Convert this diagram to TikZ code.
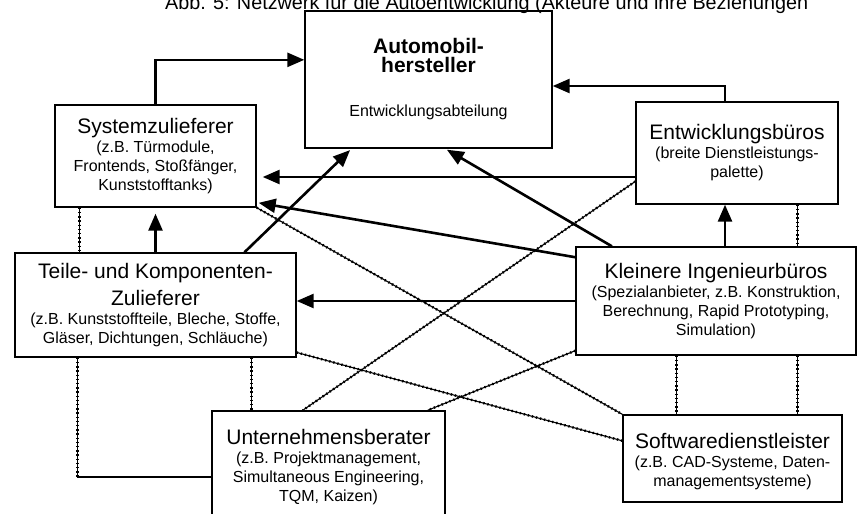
\documentclass[tikz,border=0pt]{standalone}
\usepackage{fontspec}
\setmainfont{Liberation Sans}
\usetikzlibrary{calc, positioning, arrows.meta}
\newcommand{\haupt}{\fontsize{10.5}{12}\selectfont}
\newcommand{\zusatz}{\fontsize{8}{9.5}\selectfont}

\begin{document}
\begin{tikzpicture}[x=0.5pt, y=-0.5pt,
	kasten/.style={draw, line width=.7pt, align=center, inner sep=0pt, font=\zusatz},
	pfeil/.style={line width=1.3pt, -{Triangle[length=8.5pt,width=7pt]}},
	verbindung/.style={line width=.55pt, postaction={draw, line width=1.2pt, dash pattern=on .7pt off 1.4pt}}]
	\useasboundingbox (0,0) rectangle (860,513);

	\node [anchor=base west, font=\fontsize{9.9}{12}\selectfont] (titel) at (158,9.5) {Abb. 5: Netzwerk für die Autoentwicklung (Akteure und ihre Beziehungen};

	% Akteure
	\node [kasten, minimum width=123.5pt, minimum height=68.5pt] (auto) at (428.5,79.5)
		{{\haupt\bfseries Automobil-}\\{\haupt\bfseries hersteller}\\[12.5pt]Entwicklungsabteilung};
	\node [kasten, minimum width=100.5pt, minimum height=51pt] (syst) at (155.5,156)
		{{\haupt Systemzulieferer}\\(z.B. Türmodule,\\Frontends, Stoßfänger,\\Kunststofftanks)};
	\node [kasten, minimum width=101pt, minimum height=51pt] (entw) at (737,153)
		{{\haupt Entwicklungsbüros}\\(breite Dienstleistungs-\\palette)};
	\node [kasten, minimum width=140.5pt, minimum height=52pt] (teile) at (155.5,305)
		{{\haupt Teile- und Komponenten-}\\[3pt]{\haupt Zulieferer}\\(z.B. Kunststoffteile, Bleche, Stoffe,\\Gläser, Dichtungen, Schläuche)};
	\node [kasten, minimum width=140pt, minimum height=54pt] (klein) at (716,301)
		{{\haupt Kleinere Ingenieurbüros}\\(Spezialanbieter, z.B. Konstruktion,\\Berechnung, Rapid Prototyping,\\Simulation)};
	\node [kasten, minimum width=116.5pt, minimum height=60pt] (berater) at (328.5,471)
		{{\haupt Unternehmensberater}\\(z.B. Projektmanagement,\\Simultaneous Engineering,\\TQM, Kaizen)\\[-3.5pt]};
	\node [kasten, minimum width=109.5pt, minimum height=43.5pt] (soft) at (732.5,458.5)
		{{\haupt\rule{0pt}{11pt}Softwaredienstleister}\\(z.B. CAD-Systeme, Daten-\\managementsysteme)};

	% Pfeile
	\draw [pfeil, shorten >=3pt] (teile.north) -- (syst.south);
	\draw [pfeil] (syst.north) |- ($(auto.north west)!0.358!(auto.south west)$);
	\draw [pfeil] ([xshift=-6pt]entw.north) |- ($(auto.north east)!0.547!(auto.south east)$);
	\draw [pfeil] ([xshift=4.5pt]klein.north) -- ([xshift=4.5pt]klein.north |- entw.south);
	\draw [pfeil, shorten >=3pt] ([yshift=-12pt]entw.west) -- ([yshift=-12pt]entw.west -| syst.east);
	\draw [pfeil, shorten >=1pt] ($(klein.north west)!0.1!(klein.south west)$) -- ($(syst.north east)!0.95!(syst.south east)$);
	\draw [pfeil] (klein.west) -- (klein.west -| teile.east);
	\draw [pfeil, shorten >=1pt] ($(teile.north west)!0.815!(teile.north east)$) -- ($(auto.south west)!0.19!(auto.south east)$);
	\draw [pfeil, shorten >=1pt] ($(klein.north west)!0.13!(klein.north east)$) -- ($(auto.south west)!0.567!(auto.south east)$);

	% Beziehungen
	\coordinate (s1) at ($(syst.south west)!0.124!(syst.south east)$);
	\coordinate (e1) at ($(entw.south west)!0.797!(entw.south east)$);
	\coordinate (k1) at ($(klein.south west)!0.36!(klein.south east)$);
	\coordinate (k2) at ($(klein.south west)!0.79!(klein.south east)$);
	\coordinate (t1) at ($(teile.south west)!0.224!(teile.south east)$);
	\coordinate (t2) at ($(teile.south west)!0.84!(teile.south east)$);
	\draw [verbindung] (s1) -- (s1 |- teile.north);
	\draw [verbindung] (e1) -- (e1 |- klein.north);
	\draw [verbindung] (k1) -- (k1 |- soft.north);
	\draw [verbindung] (k2) -- (k2 |- soft.north);
	\draw [verbindung] (t1) |- ([yshift=-3pt]berater.west);
	\draw [verbindung] (t2) -- (t2 |- berater.north);
	\draw [verbindung] (syst.south east) -- (soft.north west);
	\draw [verbindung] ($(teile.north east)!0.95!(teile.south east)$) -- ($(soft.north west)!0.3!(soft.south west)$);
	\draw [verbindung] ($(entw.north west)!0.775!(entw.south west)$) -- ($(berater.north west)!0.39!(berater.north east)$);
	\draw [verbindung] ($(klein.north west)!0.954!(klein.south west)$) -- ($(berater.north west)!0.923!(berater.north east)$);
\end{tikzpicture}
\end{document}
